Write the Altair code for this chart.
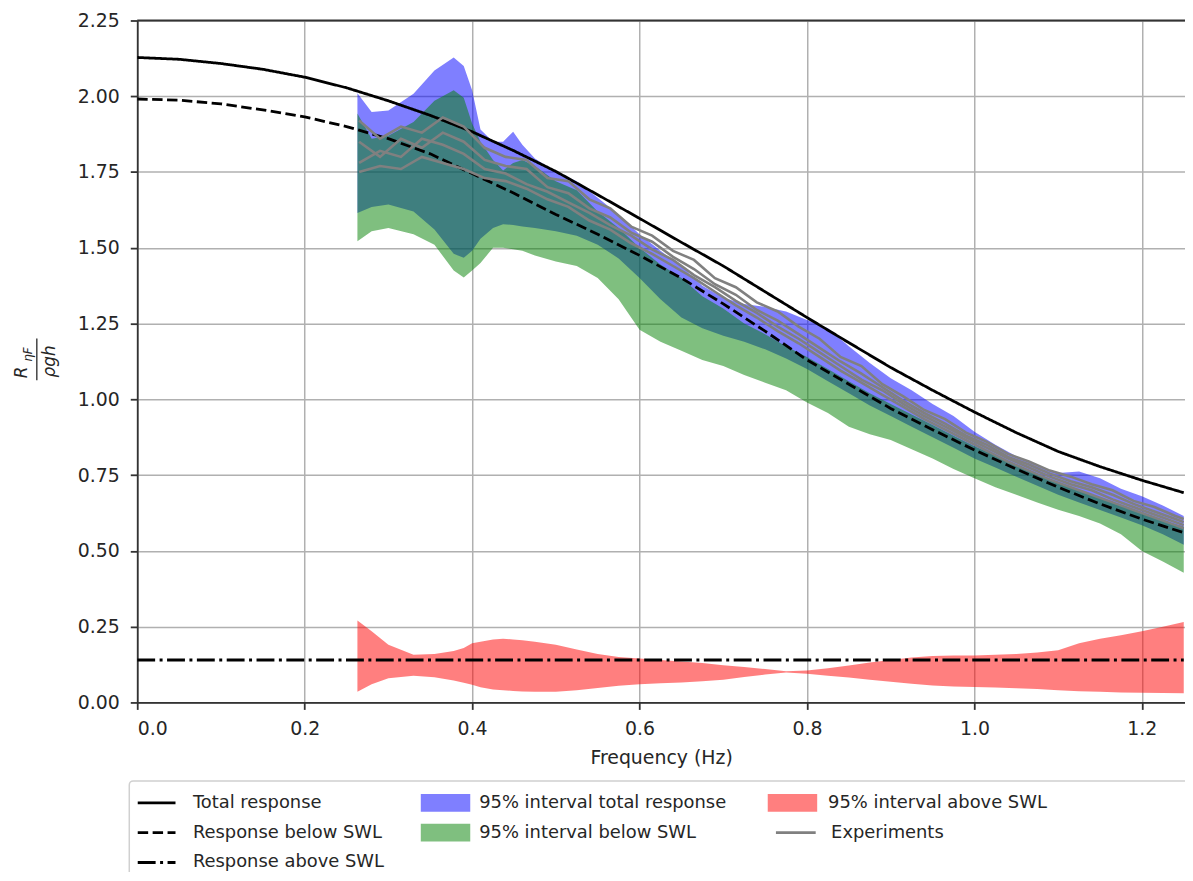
import altair as alt
import pandas as pd

# ---------------- data ----------------
f_theory = [0.0, 0.05, 0.1, 0.15, 0.2, 0.25, 0.3, 0.35, 0.4, 0.45, 0.5, 0.55, 0.6,
            0.65, 0.7, 0.75, 0.8, 0.85, 0.9, 0.95, 1.0, 1.05, 1.1, 1.15, 1.2, 1.25]
total_response = [2.128, 2.122, 2.108, 2.089, 2.063, 2.028, 1.985, 1.937, 1.883, 1.82,
                  1.752, 1.675, 1.597, 1.518, 1.44, 1.355, 1.27, 1.187, 1.105, 1.03,
                  0.958, 0.89, 0.828, 0.778, 0.733, 0.692]
below_swl = [1.991, 1.987, 1.975, 1.955, 1.932, 1.9, 1.86, 1.81, 1.745, 1.68,
             1.61, 1.545, 1.475, 1.40, 1.315, 1.225, 1.13, 1.05, 0.97, 0.90,
             0.833, 0.77, 0.71, 0.655, 0.605, 0.56]
above_swl = [0.14, 0.14, 0.14, 0.14, 0.14, 0.14, 0.14, 0.14, 0.14, 0.14, 0.14, 0.14, 0.14,
             0.14, 0.14, 0.14, 0.14, 0.14, 0.14, 0.14, 0.14, 0.14, 0.14, 0.14, 0.14, 0.14]

f_band = [0.263, 0.28, 0.30, 0.33, 0.355, 0.378, 0.39, 0.40, 0.41, 0.425, 0.437, 0.449,
          0.46, 0.475, 0.5, 0.525, 0.55, 0.575, 0.6, 0.625, 0.65, 0.675, 0.7, 0.725,
          0.75, 0.775, 0.8, 0.825, 0.85, 0.875, 0.9, 0.925, 0.95, 0.975, 1.0, 1.025,
          1.05, 1.075, 1.1, 1.125, 1.15, 1.175, 1.2, 1.225, 1.25]
total_hi = [2.01, 1.948, 1.953, 2.008, 2.085, 2.128, 2.10, 2.02, 1.89, 1.85, 1.85, 1.883,
            1.84, 1.795, 1.75, 1.72, 1.665, 1.61, 1.545, 1.49, 1.44, 1.375, 1.335, 1.315,
            1.305, 1.29, 1.262, 1.235, 1.175, 1.12, 1.07, 1.03, 0.985, 0.945, 0.893, 0.85,
            0.812, 0.78, 0.757, 0.762, 0.74, 0.705, 0.68, 0.65, 0.615]
total_lo = [1.615, 1.635, 1.643, 1.62, 1.56, 1.48, 1.467, 1.49, 1.53, 1.565, 1.578, 1.575,
            1.57, 1.565, 1.555, 1.54, 1.51, 1.465, 1.40, 1.33, 1.27, 1.235, 1.21, 1.19,
            1.165, 1.135, 1.10, 1.06, 1.02, 0.98, 0.945, 0.91, 0.875, 0.84, 0.805, 0.775,
            0.745, 0.715, 0.685, 0.66, 0.635, 0.61, 0.585, 0.555, 0.52]
below_hi = [1.943, 1.86, 1.87, 1.915, 1.985, 2.02, 1.995, 1.91, 1.85, 1.79, 1.755, 1.78,
            1.79, 1.77, 1.72, 1.69, 1.62, 1.565, 1.50, 1.445, 1.40, 1.34, 1.30, 1.25,
            1.215, 1.175, 1.14, 1.10, 1.06, 1.02, 0.985, 0.95, 0.915, 0.88, 0.845, 0.815,
            0.785, 0.755, 0.725, 0.70, 0.675, 0.65, 0.625, 0.60, 0.58]
below_lo = [1.522, 1.555, 1.565, 1.545, 1.51, 1.425, 1.402, 1.425, 1.45, 1.50, 1.50, 1.495,
            1.49, 1.475, 1.455, 1.44, 1.40, 1.33, 1.23, 1.19, 1.16, 1.13, 1.11, 1.08,
            1.055, 1.03, 0.99, 0.955, 0.91, 0.885, 0.866, 0.835, 0.805, 0.77, 0.74, 0.71,
            0.685, 0.66, 0.636, 0.615, 0.59, 0.555, 0.50, 0.465, 0.428]
above_hi = [0.27, 0.235, 0.19, 0.157, 0.16, 0.17, 0.18, 0.195, 0.20, 0.208, 0.21, 0.208,
            0.205, 0.20, 0.19, 0.175, 0.16, 0.15, 0.145, 0.14, 0.135, 0.13, 0.123, 0.117,
            0.11, 0.103, 0.105, 0.113, 0.122, 0.132, 0.14, 0.148, 0.153, 0.155, 0.155, 0.157,
            0.16, 0.165, 0.172, 0.195, 0.21, 0.222, 0.235, 0.25, 0.265]
above_lo = [0.035, 0.06, 0.08, 0.088, 0.083, 0.072, 0.065, 0.058, 0.05, 0.043, 0.04, 0.038,
            0.036, 0.035, 0.035, 0.04, 0.048, 0.055, 0.06, 0.063, 0.066, 0.07, 0.075, 0.084,
            0.092, 0.099, 0.095, 0.088, 0.082, 0.075, 0.068, 0.062, 0.056, 0.053, 0.051, 0.049,
            0.047, 0.044, 0.04, 0.037, 0.035, 0.033, 0.032, 0.031, 0.03]

f_exp = [0.265, 0.29, 0.315, 0.34, 0.365, 0.39, 0.415, 0.44, 0.465, 0.49, 0.515, 0.54,
         0.565, 0.59, 0.615, 0.64, 0.665, 0.69, 0.715, 0.74, 0.765, 0.79, 0.815, 0.84,
         0.865, 0.89, 0.915, 0.94, 0.965, 0.99, 1.015, 1.04, 1.065, 1.09, 1.115, 1.14,
         1.165, 1.19, 1.215, 1.24, 1.25]
exp1 = [1.92, 1.86, 1.90, 1.88, 1.93, 1.90, 1.83, 1.80, 1.79, 1.73, 1.72, 1.66, 1.63, 1.57,
        1.54, 1.49, 1.46, 1.40, 1.37, 1.32, 1.29, 1.24, 1.20, 1.14, 1.11, 1.05, 1.01, 0.965,
        0.935, 0.89, 0.86, 0.82, 0.795, 0.765, 0.745, 0.72, 0.70, 0.665, 0.645, 0.615, 0.605]
exp2 = [1.85, 1.80, 1.86, 1.83, 1.88, 1.85, 1.79, 1.77, 1.76, 1.70, 1.68, 1.63, 1.60, 1.55,
        1.52, 1.47, 1.43, 1.38, 1.345, 1.295, 1.26, 1.215, 1.17, 1.125, 1.085, 1.04, 0.995,
        0.955, 0.92, 0.88, 0.85, 0.81, 0.785, 0.755, 0.73, 0.71, 0.685, 0.655, 0.63, 0.605, 0.595]
exp3 = [1.78, 1.82, 1.80, 1.86, 1.84, 1.81, 1.76, 1.745, 1.71, 1.685, 1.65, 1.615, 1.575,
        1.54, 1.495, 1.46, 1.41, 1.37, 1.325, 1.285, 1.24, 1.20, 1.155, 1.11, 1.065, 1.03,
        0.985, 0.945, 0.91, 0.875, 0.84, 0.805, 0.775, 0.745, 0.72, 0.70, 0.67, 0.645, 0.62,
        0.595, 0.585]
exp4 = [1.75, 1.77, 1.76, 1.80, 1.78, 1.76, 1.73, 1.72, 1.695, 1.66, 1.635, 1.59, 1.56,
        1.515, 1.48, 1.44, 1.40, 1.355, 1.31, 1.27, 1.225, 1.185, 1.14, 1.095, 1.055, 1.015,
        0.975, 0.935, 0.9, 0.865, 0.83, 0.795, 0.765, 0.735, 0.71, 0.685, 0.66, 0.635, 0.61,
        0.585, 0.575]

curve_names = ["Total response", "Response below SWL", "Response above SWL"]
band_names = ["95% interval total response", "95% interval below SWL"]
red_name = "95% interval above SWL"
exp_name = "Experiments"

x_ticks = [0.0, 0.2, 0.4, 0.6, 0.8, 1.0, 1.2]
y_ticks = [0.0, 0.25, 0.5, 0.75, 1.0, 1.25, 1.5, 1.75, 2.0, 2.25]

# ---------------- tables ----------------
theory_df = pd.concat([
    pd.DataFrame({"curve": curve_names[0], "f": f_theory, "v": total_response}),
    pd.DataFrame({"curve": curve_names[1], "f": f_theory, "v": below_swl}),
    pd.DataFrame({"curve": curve_names[2], "f": f_theory, "v": above_swl}),
])
blue_df = pd.DataFrame({"band": band_names[0], "f": f_band, "lo": total_lo, "hi": total_hi})
green_df = pd.DataFrame({"band": band_names[1], "f": f_band, "lo": below_lo, "hi": below_hi})
red_df = pd.DataFrame({"band2": red_name, "f": f_band, "lo": above_lo, "hi": above_hi})
exp_df = pd.concat([
    pd.DataFrame({"run": i, "lab": exp_name, "f": f_exp, "v": vals})
    for i, vals in enumerate([exp1, exp2, exp3, exp4])
])

W, H = 1054, 686
FONT = "DejaVu Sans"
TXT = "#262626"
LEG_Y = 777

xs = alt.Scale(domain=[0, 1.2515], nice=False, zero=False)
ys = alt.Scale(domain=[0, 2.25], nice=False, zero=False)
xaxis = alt.Axis(values=x_ticks, format=".1f", title="Frequency (Hz)", tickSize=7,
                 labelPadding=10, titlePadding=10)
yaxis = alt.Axis(values=y_ticks, format=".2f", title=None, tickSize=7, labelPadding=11)

X = alt.X("f:Q", scale=xs, axis=xaxis)

band_legend = alt.Legend(orient="none", legendX=285, legendY=LEG_Y, title=None, padding=0,
                         clipHeight=20, rowPadding=10, symbolType="M-1,-0.36H1V0.36H-1Z",
                         symbolSize=2500, symbolOpacity=0.5, symbolStrokeWidth=0,
                         labelOffset=9, labelFont=FONT, labelFontSize=18, labelColor=TXT,
                         labelLimit=400)
fill_enc = alt.Fill("band:N", scale=alt.Scale(domain=band_names, range=["#0000ff", "#008000"]),
                    legend=band_legend)

blue = alt.Chart(blue_df).mark_area(opacity=0.5, clip=True).encode(
    x=X, y=alt.Y("lo:Q", scale=ys, axis=yaxis), y2="hi:Q", fill=fill_enc)
green = alt.Chart(green_df).mark_area(opacity=0.5, clip=True).encode(
    x=X, y=alt.Y("lo:Q", scale=ys, axis=yaxis), y2="hi:Q", fill=fill_enc)

red = alt.Chart(red_df).mark_area(opacity=0.5, clip=True).encode(
    x=X, y=alt.Y("lo:Q", scale=ys, axis=yaxis), y2="hi:Q",
    color=alt.Color("band2:N", scale=alt.Scale(domain=[red_name], range=["#ff0000"]),
                    legend=alt.Legend(orient="none", legendX=634, legendY=LEG_Y, title=None,
                                      padding=0, clipHeight=20, rowPadding=10,
                                      symbolType="M-1,-0.36H1V0.36H-1Z", symbolSize=2500,
                                      symbolOpacity=0.5, symbolStrokeWidth=0, labelOffset=11,
                                      labelFont=FONT, labelFontSize=18, labelColor=TXT,
                                      labelLimit=400)))

theory = alt.Chart(theory_df).mark_line(color="black", strokeWidth=2.8, clip=True).encode(
    x=X, y=alt.Y("v:Q", scale=ys, axis=yaxis),
    strokeDash=alt.StrokeDash(
        "curve:N",
        scale=alt.Scale(domain=curve_names, range=[[1, 0], [10.5, 4.5], [18, 4.5, 3, 4.5]]),
        legend=alt.Legend(orient="none", legendX=-1, legendY=LEG_Y, title=None, padding=0,
                          clipHeight=20, rowPadding=10, symbolType="stroke", symbolSize=1444,
                          symbolStrokeColor="black", symbolStrokeWidth=2.8, labelOffset=16,
                          labelFont=FONT, labelFontSize=18, labelColor=TXT, labelLimit=400)),
    order="f:Q")

exps = alt.Chart(exp_df).mark_line(strokeWidth=2.6, clip=True).encode(
    x=X, y=alt.Y("v:Q", scale=ys, axis=yaxis), detail="run:N", order="f:Q",
    stroke=alt.Stroke("lab:N", scale=alt.Scale(domain=[exp_name], range=["#808080"]),
                      legend=alt.Legend(orient="none", legendX=641, legendY=LEG_Y + 30,
                                        title=None, padding=0, clipHeight=20, rowPadding=10,
                                        symbolType="stroke", symbolSize=1600,
                                        symbolStrokeWidth=2.8, labelOffset=14, labelFont=FONT,
                                        labelFontSize=18, labelColor=TXT, labelLimit=400)))

one = pd.DataFrame({"k": [0]})
frame = alt.Chart(one).mark_rect(cornerRadius=4, fill="white", stroke="#d0d0d0",
                                 strokeWidth=1.5).encode(
    x=alt.value(-8), x2=alt.value(W + 40), y=alt.value(765), y2=alt.value(H + 240))
top_spine = alt.Chart(one).mark_rule(color="#333333", strokeWidth=1.8).encode(
    x=alt.value(0), x2=alt.value(W), y=alt.value(0))

title_r = alt.Chart(one).mark_text(text="R", angle=270, font=FONT, fontSize=17,
                                   fontStyle="italic", color=TXT, align="center",
                                   baseline="middle").encode(x=alt.value(-116), y=alt.value(354))
title_sub = alt.Chart(one).mark_text(text="ηF", angle=270, font=FONT, fontSize=12,
                                     fontStyle="italic", color=TXT, align="center",
                                     baseline="middle").encode(x=alt.value(-110), y=alt.value(336))
title_bar = alt.Chart(one).mark_rule(color=TXT, strokeWidth=1.3).encode(
    x=alt.value(-101), y=alt.value(320), y2=alt.value(362))
title_den = alt.Chart(one).mark_text(text="ρgh", angle=270, font=FONT, fontSize=17,
                                     fontStyle="italic", color=TXT, align="center",
                                     baseline="middle").encode(x=alt.value(-88), y=alt.value(343))

chart = alt.layer(
    frame, blue, green, red, theory, exps, top_spine, title_r, title_sub, title_bar, title_den
).properties(
    width=W, height=H,
    autosize=alt.AutoSizeParams(type="none"),
    padding={"left": 130, "top": 10, "right": 0, "bottom": 168},
    background="white",
).configure_view(stroke=None).configure_axis(
    labelFont=FONT, labelFontSize=19, labelColor=TXT, titleFont=FONT, titleFontSize=19,
    titleColor=TXT, titleFontWeight="normal", domainColor="#333333", domainWidth=1.8,
    tickColor="#333333", tickWidth=1.8, gridColor="#b0b0b0", gridWidth=1.5, grid=True,
)

chart.save("out.html", embed_options={"renderer": "svg", "actions": False})
